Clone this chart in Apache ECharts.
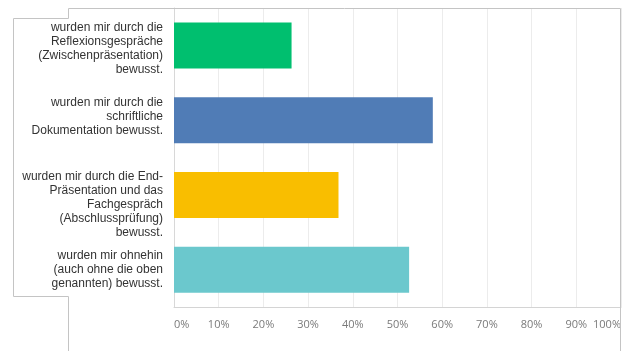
<!DOCTYPE html>
<html>
<head>
<meta charset="utf-8">
<style>
  html, body { margin: 0; padding: 0; background: #fff; }
  #chart { width: 627px; height: 351px; }
</style>
<script src="https://cdn.jsdelivr.net/npm/echarts@6/dist/echarts.min.js"></script>
</head>
<body>
<div id="chart"></div>
<script>
// Answer options (top to bottom) and share of respondents in percent
const categories = [
  'wurden mir durch die\nReflexionsgespräche\n(Zwischenpräsentation)\nbewusst.',
  'wurden mir durch die\nschriftliche\nDokumentation bewusst.',
  'wurden mir durch die End-\nPräsentation und das\nFachgespräch\n(Abschlussprüfung)\nbewusst.',
  'wurden mir ohnehin\n(auch ohne die oben\ngenannten) bewusst.'
];
const values = [26.3, 57.9, 36.8, 52.6];
const barColors = ['#00BF6F', '#507CB6', '#F9BE00', '#6BC8CD'];
const tickValues = [0, 10, 20, 30, 40, 50, 60, 70, 80, 90, 100];

// Small vertical nudge per category label (px, positive = down)
const labelNudge = [3, -3, 10, 0];

const richGaps = {};
labelNudge.forEach((n, i) => {
  richGaps['gap' + i] = { fontSize: 1, lineHeight: Math.max(1, Math.abs(n) * 2) };
});

function categoryLabel(value, index) {
  const n = labelNudge[index] || 0;
  if (n > 0) return '{gap' + index + '| }\n' + value;
  if (n < 0) return value + '\n{gap' + index + '| }';
  return value;
}

const chart = echarts.init(document.getElementById('chart'), null, { renderer: 'canvas' });

const frameStyle = { stroke: '#c4c4c4', lineWidth: 1, fill: null };

chart.setOption({
  animation: false,
  grid: { left: 174, right: 6, top: 8, bottom: 44, containLabel: false },
  xAxis: {
    type: 'value',
    min: tickValues[0],
    max: tickValues[tickValues.length - 1],
    interval: 10,
    axisLine: { show: true, lineStyle: { color: '#d4d4d4', width: 1 } },
    axisTick: { show: false },
    splitLine: { show: true, lineStyle: { color: '#ececec', width: 1 } },
    axisLabel: {
      formatter: '{value}%',
      color: '#7a7a7a',
      fontFamily: 'Open Sans',
      fontSize: 11,
      margin: 12,
      alignMinLabel: 'left',
      alignMaxLabel: 'right'
    }
  },
  yAxis: {
    type: 'category',
    data: categories,
    inverse: true,
    axisLine: { show: true, lineStyle: { color: '#d8d8d8', width: 1 } },
    axisTick: { show: false },
    splitLine: { show: false },
    axisLabel: {
      color: '#333',
      fontFamily: 'Liberation Sans, Arial, sans-serif',
      fontSize: 12,
      lineHeight: 14,
      margin: 11,
      align: 'right',
      formatter: categoryLabel,
      rich: richGaps
    }
  },
  series: [{
    type: 'bar',
    data: values.map((v, i) => ({ value: v, itemStyle: { color: barColors[i] } })),
    barWidth: 46
  }],
  graphic: [
    {
      type: 'polyline',
      silent: true,
      shape: { points: [[68.5, 351], [68.5, 296.5], [13.5, 296.5], [13.5, 18.5], [68.5, 18.5], [68.5, 8.5], [620.5, 8.5], [620.5, 351]] },
      style: frameStyle,
      z: 100
    }
  ]
});
</script>
</body>
</html>
